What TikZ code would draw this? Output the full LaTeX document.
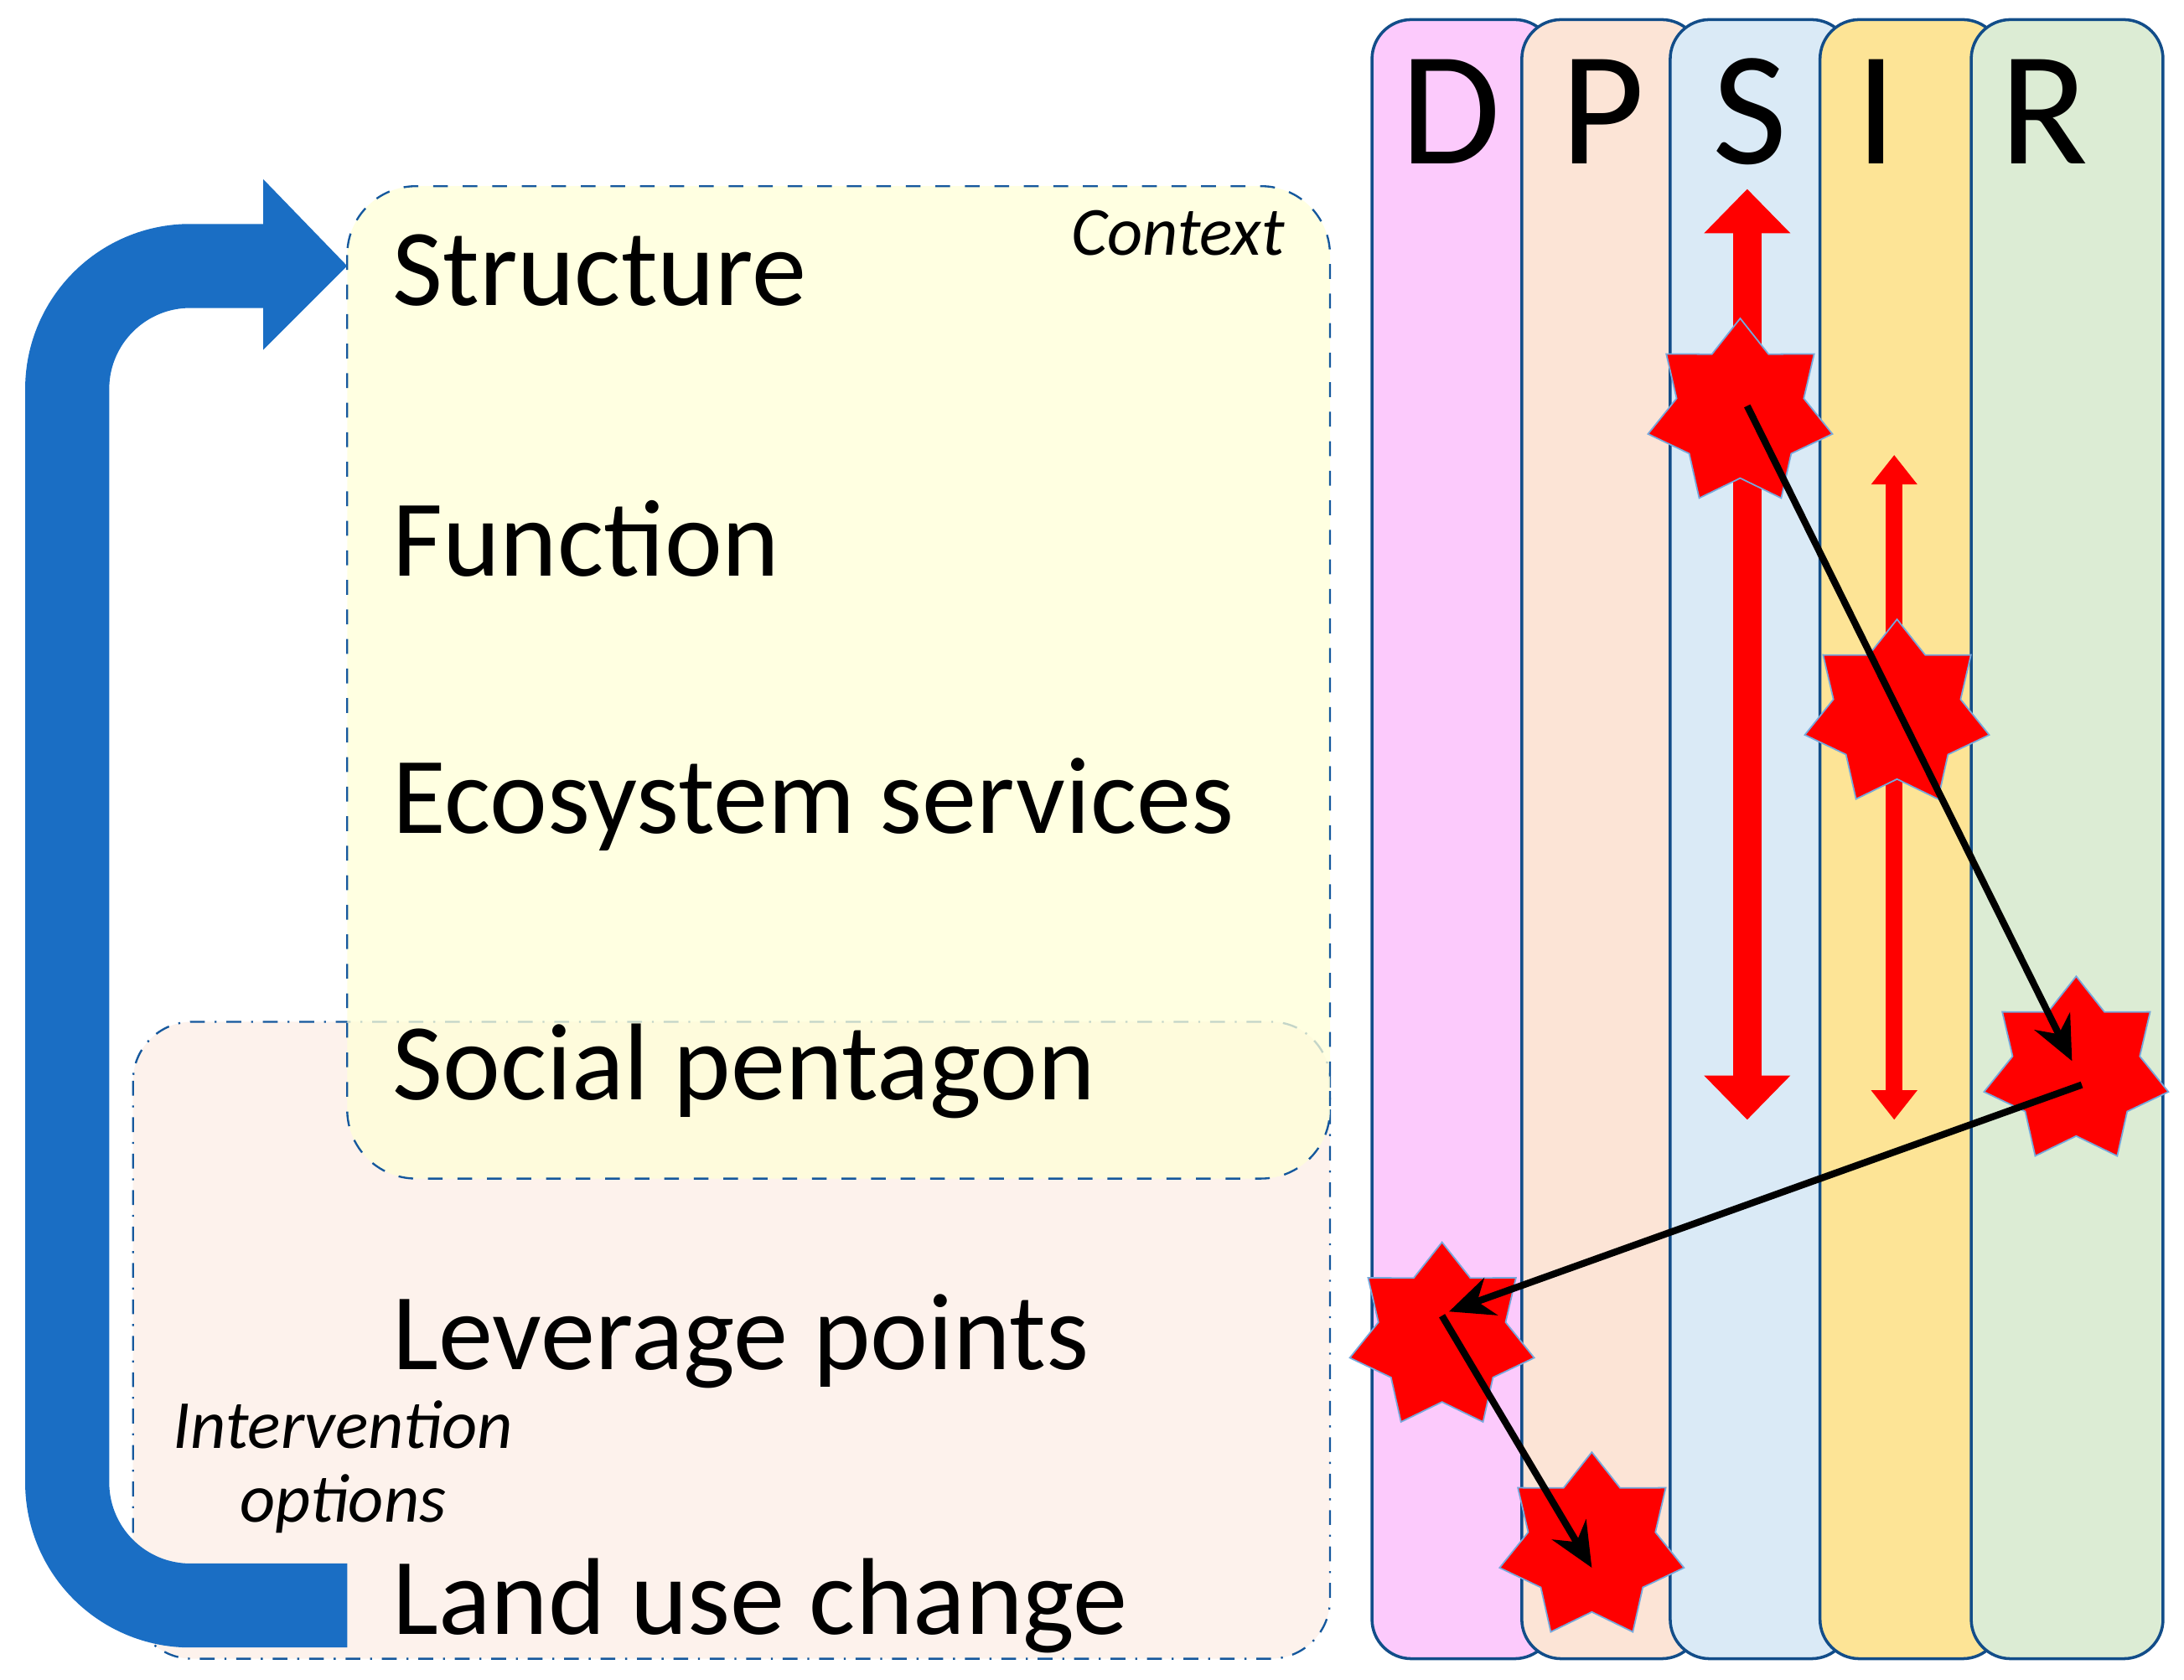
\documentclass[tikz,border=0pt]{standalone}
\usepackage{fontspec}
\setmainfont{Carlito}
\usetikzlibrary{shapes.geometric,arrows.meta}
\definecolor{bblue}{RGB}{26,110,196}
\tikzset{
 col/.style={draw=bblue!70!black, line width=0.6pt, rounded corners=8pt},
 lbl/.style={anchor=west, font=\fontsize{22.2}{26}\selectfont},
 redstar/.style={star, star points=7, star point ratio=1.45, minimum size=1.35cm, fill=red, draw=bblue!60, line width=0.3pt, inner sep=0pt},
 blk/.style={-{Stealth[length=9pt,width=8pt]}, line width=1.4pt, black},
 hand/.style={font=\itshape\fontsize{14}{15}\selectfont},
 dlet/.style={font=\fontsize{33}{33}\selectfont}
}
\begin{document}
\begin{tikzpicture}[x=0.01cm,y=-0.01cm]
\useasboundingbox (0,0) rectangle (1560,1200);
% columns
\draw[col, fill={rgb,255:red,252;green,202;blue,252}] (980,14) rectangle (1110,1185);
\draw[col, fill={rgb,255:red,252;green,228;blue,214}] (1087,14) rectangle (1215,1185);
\draw[col, fill={rgb,255:red,218;green,234;blue,246}] (1193,14) rectangle (1322,1185);
\draw[col, fill={rgb,255:red,253;green,228;blue,150}] (1300,14) rectangle (1430,1185);
\draw[col, fill={rgb,255:red,220;green,236;blue,212}] (1408,14) rectangle (1545,1185);
\node[dlet] (D) at (1036,80) {D};
\node[dlet] (P) at (1145,80) {P};
\node[dlet] (S) at (1250,80) {S};
\node[dlet] (I) at (1340,80) {I};
\node[dlet] (R) at (1460,80) {R};
% boxes
\draw[bblue!80!black, dash dot, rounded corners=12pt, fill={rgb,255:red,253;green,242;blue,236}] (95,730) rectangle (950,1185);
\draw[bblue!80!black, dashed, rounded corners=14pt, fill={rgb,255:red,255;green,255;blue,215}, fill opacity=0.75] (248,133) rectangle (950,842);
\node[hand, anchor=north east] (ctx) at (930,138) {Context};
\node[hand, align=center] (int) at (245,1048) {Intervention\\options};
% labels
\node[lbl] (st) at (268,193) {Structure};
\node[lbl] (fu) at (268,385) {Function};
\node[lbl] (es) at (268,575) {Ecosystem services};
\node[lbl] (sp) at (268,765) {Social pentagon};
\node[lbl] (lp) at (268,958) {Leverage points};
\node[lbl] (lu) at (268,1147) {Land use change};
% blue loop arrow
\coordinate (b1) at (248,1147);
\coordinate (b2) at (48,1147);
\coordinate (b3) at (48,190);
\coordinate (b4) at (195,190);
\draw[bblue, line width=0.6cm, rounded corners=25pt] (b1) -- (b2) -- (b3) -- (b4);
\fill[bblue] (188,128) -- (248,190) -- (188,250) -- cycle;
% red double arrows
\coordinate (s1) at (1248,135); \coordinate (s2) at (1248,800);
\coordinate (i1) at (1353,325); \coordinate (i2) at (1353,800);
\draw[red, line width=0.2cm, {Triangle[length=9pt,width=17pt]}-{Triangle[length=9pt,width=17pt]}] (s1) -- (s2);
\draw[red, line width=0.12cm, {Triangle[length=6pt,width=9pt]}-{Triangle[length=6pt,width=9pt]}] (i1) -- (i2);
% stars
\node[redstar] (k1) at (1243,295) {};
\node[redstar] (k2) at (1355,510) {};
\node[redstar] (k3) at (1483,765) {};
\node[redstar] (k4) at (1030,955) {};
\node[redstar] (k5) at (1137,1105) {};
\draw[blk] (1248,290) -- (1480,758);
\draw[blk] (1487,775) -- (1035,937);
\draw[blk] (1030,940) -- (1137,1120);
\end{tikzpicture}
\end{document}
